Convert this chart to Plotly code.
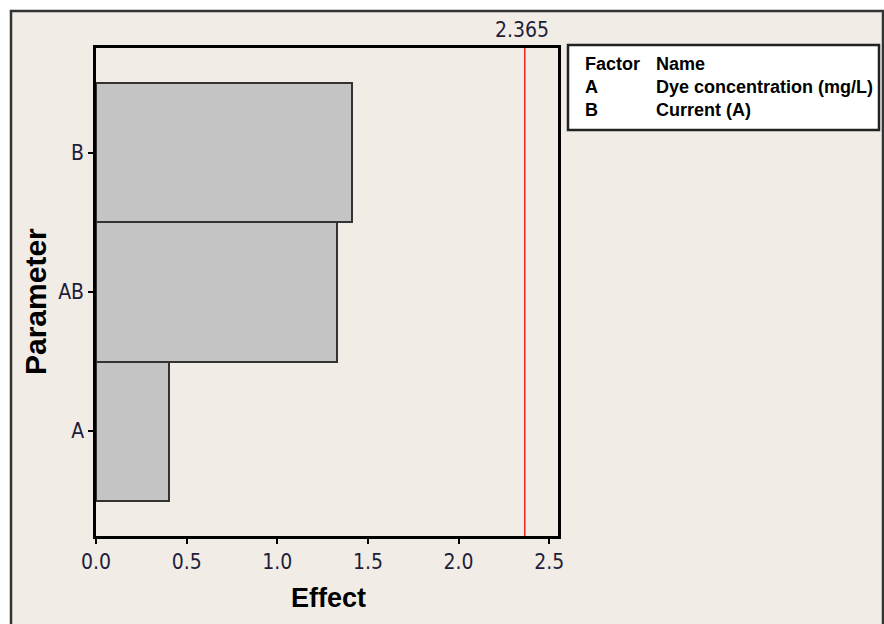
import plotly.graph_objects as go

# Data
parameters = ["A", "AB", "B"]
effects = [0.40, 1.33, 1.41]
critical_value = 2.365
critical_label = "2.365"
x_ticks = [0.0, 0.5, 1.0, 1.5, 2.0, 2.5]
x_tick_text = ["0.0", "0.5", "1.0", "1.5", "2.0", "2.5"]
legend_factors = ["A", "B"]
legend_names = ["Dye concentration (mg/L)", "Current (A)"]

W, H = 884, 624
L, R, T, B = 96, 326, 48, 88
PW, PH = W - L - R, H - T - B


def px(X):
    return (X - L) / PW


def py(Y):
    return (H - B - Y) / PH


tick_font = dict(family="DejaVu Sans Condensed, DejaVu Sans, sans-serif", size=21, color="#1e1e3a")
bold_font = "Liberation Sans, Arial, sans-serif"

fig = go.Figure()
fig.add_trace(go.Bar(
    x=effects, y=parameters, orientation="h", width=1.0,
    marker=dict(color="#c4c4c4", line=dict(color="#333333", width=2)),
    hoverinfo="x+y", showlegend=False,
))

shapes = [
    # outer frame background
    dict(type="rect", xref="paper", yref="paper", x0=px(11), x1=px(883), y0=py(640), y1=py(11),
         fillcolor="#f1ece6", line=dict(color="#333333", width=2.5), layer="below"),
    # critical line
    dict(type="line", xref="x", yref="paper", x0=critical_value, x1=critical_value, y0=0, y1=1,
         line=dict(color="#e8241c", width=1.5), layer="above"),
    # legend box
    dict(type="rect", xref="paper", yref="paper", x0=px(568), x1=px(879), y0=py(130), y1=py(45),
         fillcolor="white", line=dict(color="#222222", width=2.5), layer="below"),
]

ann = []
ann.append(dict(x=critical_value, y=py(30.5), xref="x", yref="paper", text=critical_label,
                showarrow=False, xanchor="center", yanchor="middle", xshift=-3, font=tick_font))
ann.append(dict(x=px(328), y=py(598), xref="paper", yref="paper", text="<b>Effect</b>",
                showarrow=False, xanchor="center", yanchor="middle",
                font=dict(family=bold_font, size=27, color="black")))
ann.append(dict(x=px(35), y=py(302), xref="paper", yref="paper", text="<b>Parameter</b>",
                showarrow=False, xanchor="center", yanchor="middle", textangle=-90,
                font=dict(family=bold_font, size=30, color="black")))

leg_font = dict(family=bold_font, size=18, color="black")
rows_y = [64, 87, 110]
ann.append(dict(x=px(583), y=py(rows_y[0]), xref="paper", yref="paper", text="<b>Factor</b>",
                showarrow=False, xanchor="left", yanchor="middle", font=leg_font))
ann.append(dict(x=px(654), y=py(rows_y[0]), xref="paper", yref="paper", text="<b>Name</b>",
                showarrow=False, xanchor="left", yanchor="middle", font=leg_font))
for i, (f, n) in enumerate(zip(legend_factors, legend_names)):
    ann.append(dict(x=px(583), y=py(rows_y[i + 1]), xref="paper", yref="paper", text=f"<b>{f}</b>",
                    showarrow=False, xanchor="left", yanchor="middle", font=leg_font))
    ann.append(dict(x=px(654), y=py(rows_y[i + 1]), xref="paper", yref="paper", text=f"<b>{n}</b>",
                    showarrow=False, xanchor="left", yanchor="middle", font=leg_font))

fig.update_layout(
    width=W, height=H,
    margin=dict(l=L, r=R, t=T, b=B),
    paper_bgcolor="white",
    plot_bgcolor="white",
    bargap=0,
    shapes=shapes,
    annotations=ann,
    xaxis=dict(range=[0, PW / 181.3], tickvals=x_ticks, ticktext=x_tick_text,
               showgrid=False, zeroline=False, showline=True, mirror=True,
               linecolor="black", linewidth=2.5, ticks="outside", ticklen=5, tickwidth=1.5,
               tickcolor="black", tickfont=tick_font),
    yaxis=dict(type="category", categoryorder="array", categoryarray=parameters,
               range=[-0.755, 2.755], showgrid=False, zeroline=False, showline=True, mirror=True,
               linecolor="black", linewidth=2.5, ticks="outside", ticklen=5, tickwidth=1.5,
               tickcolor="black", tickfont=dict(tick_font, size=21)),
)

fig.write_html("out.html")
